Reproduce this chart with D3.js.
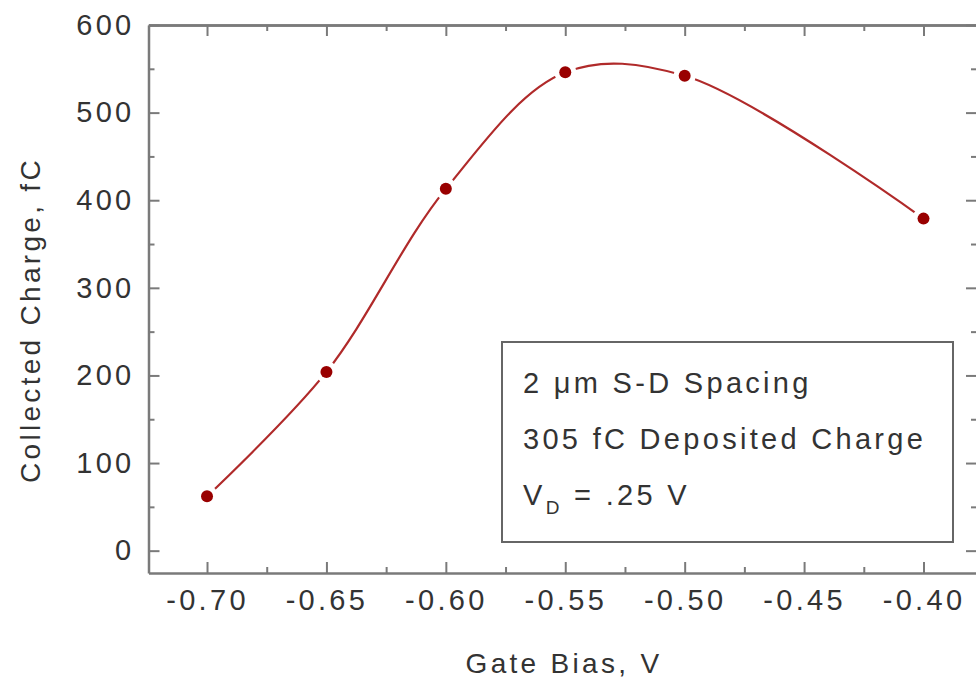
<!DOCTYPE html>
<html>
<head>
<meta charset="utf-8">
<script src="https://cdn.jsdelivr.net/npm/d3@7"></script>
<style>
  body { margin: 0; background: #fff; }
  text { font-family: "Liberation Sans", Arial, sans-serif; fill: #333; }
</style>
</head>
<body>
<svg id="chart"></svg>
<script>
// data
const gateBias = [-0.70, -0.65, -0.60, -0.55, -0.50, -0.40];
const charge = [62, 204, 413, 546, 542, 379];
const xTicks = [-0.70, -0.65, -0.60, -0.55, -0.50, -0.45, -0.40];
const xMinor = [-0.675, -0.625, -0.575, -0.525, -0.475, -0.425];
const yTicks = [0, 100, 200, 300, 400, 500, 600];
const yMinor = [50, 150, 250, 350, 450, 550];
const notes = ["2 \u03BCm S-D Spacing", "305 fC Deposited Charge"];

const width = 976, height = 681;
const axisColor = "#7a7a7a";
const ls = "3.3px";

let svg = d3.select("#chart")
    .attr("width", width)
    .attr("height", height);

// plot frame runs a bit past the right edge of the window
let x = d3.scaleLinear()
    .domain([-0.7245, -0.3776])
    .range([148.5, 977]);
let y = d3.scaleLinear()
    .domain([-25.5, 600])
    .range([573, 25]);

const data = gateBias.map((g, i) => ({ g: g, c: charge[i] }));

// axes: major and minor ticks, all pointing inward, mirrored on top / right
function styleAxis(g) {
    g.selectAll("path").attr("stroke", axisColor).attr("stroke-width", 2.5);
    g.selectAll("line").attr("stroke", axisColor).attr("stroke-width", 2);
    g.selectAll("text")
        .attr("font-size", 29)
        .attr("letter-spacing", ls)
        .attr("fill", "#333");
}

svg.append("g")
    .attr("transform", "translate(0," + y.range()[0] + ")")
    .call(d3.axisBottom(x).tickValues(xTicks).tickSize(-11).tickPadding(16)
        .tickFormat(d => d.toFixed(2)).tickSizeOuter(0))
    .call(styleAxis)
    .call(g => g.select(".domain").remove());

svg.append("g")
    .attr("transform", "translate(0," + y.range()[0] + ")")
    .call(d3.axisBottom(x).tickValues(xMinor).tickSize(-6).tickFormat("").tickSizeOuter(0))
    .call(styleAxis);

svg.append("g")
    .attr("transform", "translate(0," + y.range()[1] + ")")
    .call(d3.axisTop(x).tickValues(xTicks).tickSize(-11).tickFormat("").tickSizeOuter(0))
    .call(styleAxis);

svg.append("g")
    .attr("transform", "translate(0," + y.range()[1] + ")")
    .call(d3.axisTop(x).tickValues(xMinor).tickSize(-6).tickFormat("").tickSizeOuter(0))
    .call(styleAxis);

svg.append("g")
    .attr("transform", "translate(" + x.range()[0] + ",0)")
    .call(d3.axisLeft(y).tickValues(yTicks).tickSize(-11).tickPadding(14).tickSizeOuter(0))
    .call(styleAxis)
    .call(g => g.select(".domain").remove());

svg.append("g")
    .attr("transform", "translate(" + x.range()[0] + ",0)")
    .call(d3.axisLeft(y).tickValues(yMinor).tickSize(-6).tickFormat("").tickSizeOuter(0))
    .call(styleAxis);

svg.append("g")
    .attr("transform", "translate(" + x.range()[1] + ",0)")
    .call(d3.axisRight(y).tickValues(yTicks).tickSize(-11).tickFormat("").tickSizeOuter(0))
    .call(styleAxis);

svg.append("g")
    .attr("transform", "translate(" + x.range()[1] + ",0)")
    .call(d3.axisRight(y).tickValues(yMinor).tickSize(-6).tickFormat("").tickSizeOuter(0))
    .call(styleAxis);

// axis titles
svg.append("text")
    .attr("x", 564)
    .attr("y", 673)
    .attr("text-anchor", "middle")
    .attr("font-size", 28)
    .attr("letter-spacing", ls)
    .text("Gate Bias, V");

svg.append("text")
    .attr("transform", "translate(40,320) rotate(-90)")
    .attr("text-anchor", "middle")
    .attr("font-size", 28)
    .attr("letter-spacing", ls)
    .text("Collected Charge, fC");

// smooth curve through the points
let line = d3.line()
    .x(d => x(d.g))
    .y(d => y(d.c))
    .curve(d3.curveCatmullRom);

svg.append("path")
    .datum(data)
    .attr("d", line)
    .attr("fill", "none")
    .attr("stroke", "#b02a2a")
    .attr("stroke-width", 2.2);

// white halo so the line stops short of each marker
svg.selectAll("circle.halo")
    .data(data)
    .enter()
    .append("circle")
    .attr("class", "halo")
    .attr("cx", d => x(d.g))
    .attr("cy", d => y(d.c))
    .attr("r", 11)
    .attr("fill", "#fff");

svg.selectAll("circle.pt")
    .data(data)
    .enter()
    .append("circle")
    .attr("class", "pt")
    .attr("cx", d => x(d.g))
    .attr("cy", d => y(d.c))
    .attr("r", 6)
    .attr("fill", "#990000");

// annotation box
let box = svg.append("g");
box.append("rect")
    .attr("x", 502)
    .attr("y", 342)
    .attr("width", 451)
    .attr("height", 200)
    .attr("fill", "#fff")
    .attr("stroke", "#666")
    .attr("stroke-width", 2);

box.selectAll("text.note")
    .data(notes)
    .enter()
    .append("text")
    .attr("class", "note")
    .attr("x", 523)
    .attr("y", (d, i) => 393 + i * 56)
    .attr("font-size", 29)
    .attr("letter-spacing", ls)
    .text(d => d);

let vd = box.append("text")
    .attr("x", 523)
    .attr("y", 505)
    .attr("font-size", 29)
    .attr("letter-spacing", ls);
vd.append("tspan").text("V");
vd.append("tspan").attr("font-size", 19).attr("dy", 9).text("D");
vd.append("tspan").attr("dy", -9).text(" = .25 V");
</script>
</body>
</html>
